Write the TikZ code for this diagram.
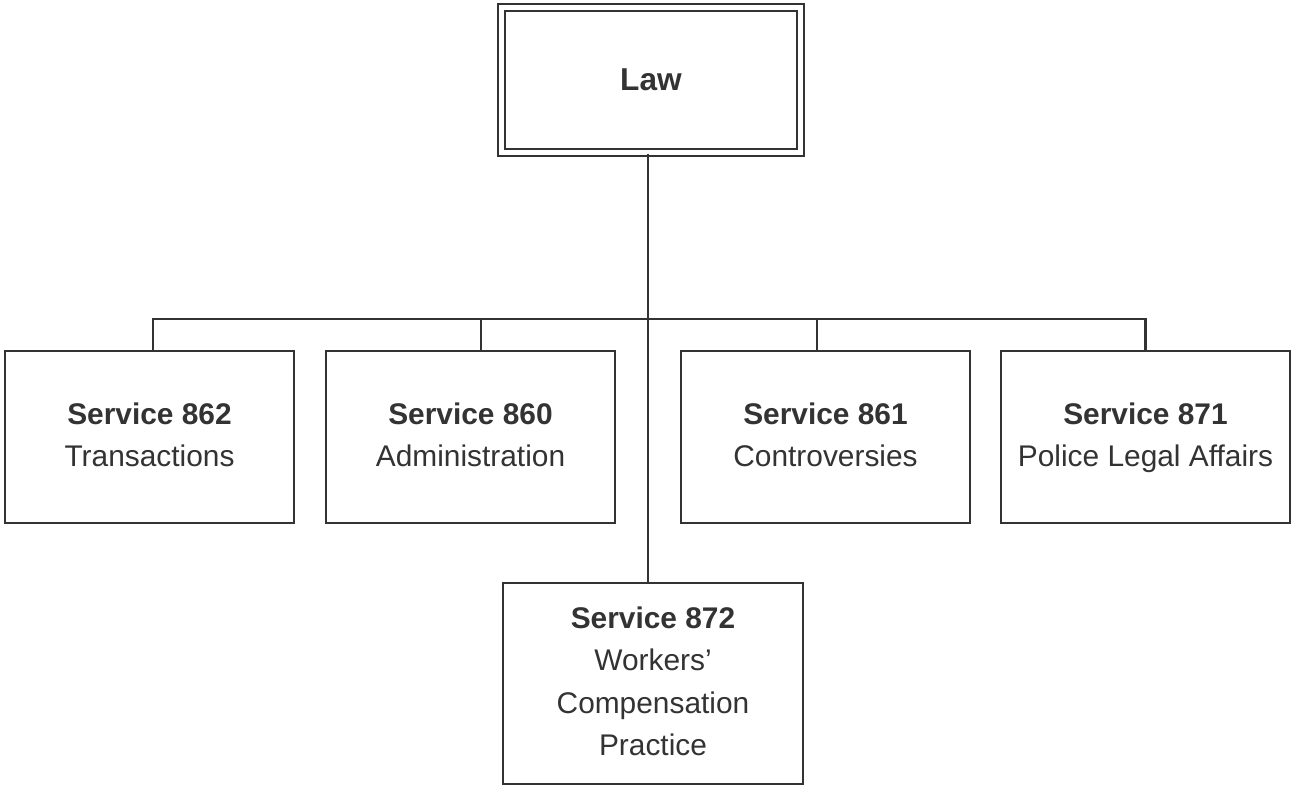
\documentclass[tikz,border=0pt]{standalone}
\usepackage{fontspec}
\setmainfont{Liberation Sans}
\usetikzlibrary{positioning}

\definecolor{ink}{HTML}{333333}

\tikzset{
    unit/.style={rectangle, draw=ink, line width=1.4pt, text=ink, align=center,
        minimum width=5.78cm, minimum height=3.44cm,
        font=\fontsize{17}{24}\selectfont},
    head/.style={unit, double, double distance=2.6pt, minimum width=5.98cm, minimum height=2.9cm,
        font=\fontsize{18}{24}\selectfont\bfseries},
    link/.style={draw=ink, line width=1.4pt}
}

\begin{document}
\begin{tikzpicture}
        \useasboundingbox (0,0) rectangle (25.88,-15.74);

        \node at (13.02,-1.6) [head] (law) {Law};
        \node at (2.99,-8.74) [unit] (s862) {\strut\textbf{Service 862}\\Transactions\strut};
        \node at (9.41,-8.74) [unit] (s860) {\strut\textbf{Service 860}\\Administration\strut};
        \node at (16.51,-8.74) [unit] (s861) {\strut\textbf{Service 861}\\Controversies\strut};
        \node at (22.91,-8.74) [unit] (s871) {\strut\textbf{Service 871}\\Police Legal Affairs\strut};
        \node at (13.06,-13.67) [unit, minimum width=6cm, minimum height=4.02cm] (s872)
            {\strut\textbf{Service 872}\\Workers'\\Compensation\\Practice\strut};

        \coordinate (bus) at (0,-6.38);

        % trunk from Law down to Service 872
        \draw[link] ([xshift=-0.06cm]law.south) -- ([xshift=-0.06cm]law.south |- s872.north);

        % bus and drops
        \draw[link] ([xshift=0.07cm]s862.north) |- (bus -| s871.north) -- (s871.north);
        \draw[link] ([xshift=0.21cm]s860.north) -- ([xshift=0.21cm]s860.north |- bus);
        \draw[link] ([xshift=-0.17cm]s861.north) -- ([xshift=-0.17cm]s861.north |- bus);
    \end{tikzpicture}
\end{document}
